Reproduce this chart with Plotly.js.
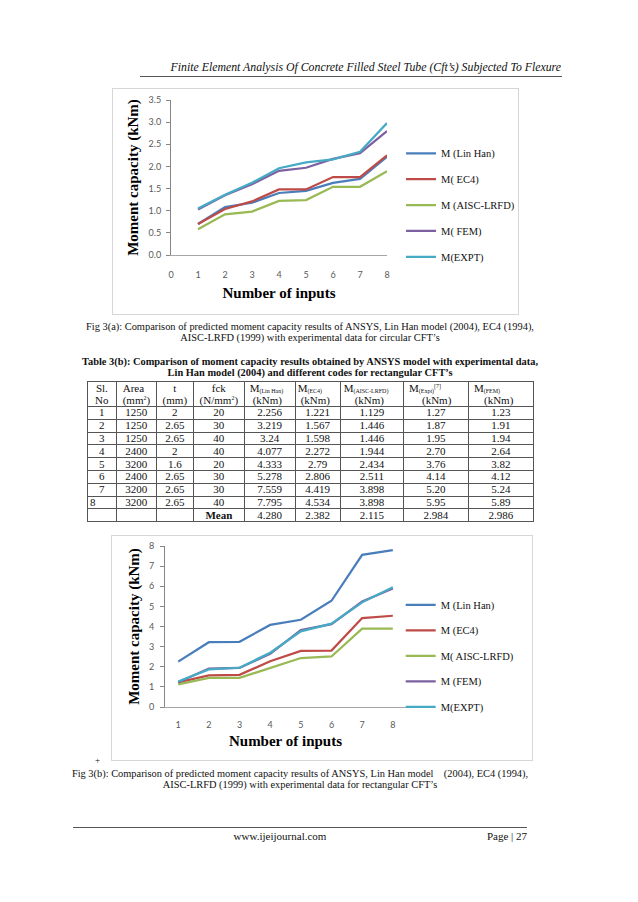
<!DOCTYPE html>
<html>
<head>
<meta charset="utf-8">
<script src="https://cdn.plot.ly/plotly-3.0.1.min.js"></script>
<style>
html,body{margin:0;padding:0;background:#fff;width:638px;height:902px;overflow:hidden;}
#page{position:relative;width:638px;height:902px;font-family:"Liberation Serif","Times New Roman",serif;color:#111;overflow:hidden;}
.abs{position:absolute;}
.frame{position:absolute;border:1px solid #d6d6d6;box-sizing:border-box;}
.cap{position:absolute;font-size:10.4px;line-height:11px;text-align:center;white-space:nowrap;}
#tbl{border-collapse:collapse;table-layout:fixed;font-size:11px;}
#tbl td{border:1px solid #555;padding:0;height:11.8px;line-height:11px;text-align:center;white-space:nowrap;overflow:hidden;}
#tbl tr.hd td{height:24px;vertical-align:top;text-align:left;line-height:12px;}
#tbl sub,#tbl sup{font-size:6px;line-height:0;}
#tbl sub{vertical-align:-1px;}
#tbl sup{vertical-align:4px;}
#tbl td b{font-weight:bold;}
</style>
</head>
<body>
<div id="page">
  <div class="abs" id="hdr" style="left:61px;top:61px;width:500px;text-align:right;font-style:italic;font-size:11.8px;line-height:13px;white-space:nowrap;">Finite Element Analysis Of Concrete Filled Steel Tube (Cft’s) Subjected To Flexure</div>
  <div class="abs" style="left:140px;top:76px;width:422px;height:0;border-top:1px solid #555;"></div>

  <div class="frame" style="left:112px;top:88px;width:407px;height:227px;"></div>
  <div class="abs" id="chart1" style="left:112px;top:88px;width:480px;height:227px;"></div>

  <div class="cap" style="left:60px;top:321px;width:500px;">Fig 3(a): Comparison of predicted moment capacity results of ANSYS, Lin Han model (2004), EC4 (1994),<br>AISC-LRFD (1999) with experimental data for circular CFT’s</div>

  <div class="cap" style="left:60px;top:357px;width:500px;font-weight:bold;line-height:10.5px;">Table 3(b): Comparison of moment capacity results obtained by ANSYS model with experimental data,<br>Lin Han model (2004) and different codes for rectangular CFT’s</div>

  <div class="abs" id="tblwrap" style="left:87px;top:381px;"></div>

  <div class="frame" style="left:111px;top:535px;width:422px;height:226px;"></div>
  <div class="abs" id="chart2" style="left:111px;top:535px;width:480px;height:226px;"></div>

  <div class="abs" style="left:95px;top:755px;font-size:9px;line-height:10px;">+</div>

  <div class="cap" style="left:50px;top:768px;width:500px;">Fig 3(b): Comparison of predicted moment capacity results of ANSYS, Lin Han model&nbsp;&nbsp;&nbsp;&nbsp;(2004), EC4 (1994),<br>AISC-LRFD (1999) with experimental data for rectangular CFT’s</div>

  <div class="abs" style="left:73px;top:827px;width:454px;height:0;border-top:1px solid #555;"></div>
  <div class="abs" style="left:180px;top:830px;width:200px;text-align:center;font-size:11px;line-height:12px;">www.ijeijournal.com</div>
  <div class="abs" style="left:427px;top:830px;width:100px;text-align:right;font-size:11px;line-height:12px;">Page | 27</div>
</div>

<script>
// ---------- data: Fig 3(a) circular CFT ----------
const inputs = [1, 2, 3, 4, 5, 6, 7, 8];
const circLinHan = [0.70, 1.08, 1.18, 1.40, 1.45, 1.63, 1.72, 2.22];
const circEC4    = [0.70, 1.04, 1.21, 1.48, 1.48, 1.76, 1.76, 2.25];
const circAISC   = [0.58, 0.92, 0.98, 1.22, 1.24, 1.54, 1.54, 1.89];
const circFEM    = [1.03, 1.35, 1.60, 1.90, 1.97, 2.17, 2.30, 2.80];
const circEXPT   = [1.05, 1.36, 1.63, 1.96, 2.09, 2.16, 2.33, 2.98];
const circNames  = ["M (Lin Han)", "M( EC4)", "M (AISC-LRFD)", "M( FEM)", "M(EXPT)"];
const circXTicks = [0, 1, 2, 3, 4, 5, 6, 7, 8];

// ---------- data: Table 3(b) / Fig 3(b) rectangular CFT ----------
const slNo       = ["1", "2", "3", "4", "5", "6", "7", "8"];
const areas      = ["1250", "1250", "1250", "2400", "3200", "2400", "3200", "3200"];
const thickness  = ["2", "2.65", "2.65", "2", "1.6", "2.65", "2.65", "2.65"];
const fckVals    = ["20", "30", "40", "40", "20", "30", "30", "40"];
const rectLinHan = ["2.256", "3.219", "3.24", "4.077", "4.333", "5.278", "7.559", "7.795"];
const rectEC4    = ["1.221", "1.567", "1.598", "2.272", "2.79", "2.806", "4.419", "4.534"];
const rectAISC   = ["1.129", "1.446", "1.446", "1.944", "2.434", "2.511", "3.898", "3.898"];
const rectExpt   = ["1.27", "1.87", "1.95", "2.70", "3.76", "4.14", "5.20", "5.95"];
const rectFEM    = ["1.23", "1.91", "1.94", "2.64", "3.82", "4.12", "5.24", "5.89"];
const meanRow    = ["", "", "", "Mean", "4.280", "2.382", "2.115", "2.984", "2.986"];
const tableHeaders = [
  ["Sl.", "No"],
  ["Area", "(mm<sup>2</sup>)"],
  ["t", "(mm)"],
  ["fck", "(N/mm<sup>2</sup>)"],
  ["M<sub>(Lin Han)</sub>", "(kNm)"],
  ["M<sub>(EC4)</sub>", "(kNm)"],
  ["M<sub>(AISC-LRFD)</sub>", "(kNm)"],
  ["M<sub>(Expt)</sub><sup>[7]</sup>", "(kNm)"],
  ["M<sub>(FEM)</sub>", "(kNm)"]
];
const rectNames = ["M (Lin Han)", "M (EC4)", "M( AISC-LRFD)", "M (FEM)", "M(EXPT)"];

// ---------- styles (kept apart from data) ----------
const lineColors = ["#4A7EBB", "#BE4B48", "#98B954", "#7D60A0", "#46AAC5"];
const colWidths = [28.7, 40, 37.3, 50.7, 51, 45, 63.3, 65, 65];
const hdrPad = [[0,0,"center"],[6,6,"left"],[0,0,"center"],[0,0,"center"],[5,8,"left"],[2,5,"left"],[3,14,"left"],[5,18,"left"],[5,15,"left"]];

// ---------- table ----------
(function buildTable() {
  const cols = [slNo, areas, thickness, fckVals, rectLinHan, rectEC4, rectAISC, rectExpt, rectFEM];
  let h = '<table id="tbl" style="width:446px"><colgroup>' +
    colWidths.map(w => '<col style="width:' + w + 'px">').join('') + '</colgroup>';
  h += '<tr class="hd">' + tableHeaders.map((t, i) => {
    const p = hdrPad[i];
    if (p[2] === 'center') return '<td style="text-align:center">' + t[0] + '<br>' + t[1] + '</td>';
    return '<td><div style="padding-left:' + p[0] + 'px">' + t[0] + '</div><div style="padding-left:' + p[1] + 'px">' + t[1] + '</div></td>';
  }).join('') + '</tr>';
  for (let r = 0; r < slNo.length; r++) {
    h += '<tr>' + cols.map((c, i) => {
      const st = (i === 0 && r === slNo.length - 1) ? ' style="text-align:left;padding-left:2px"' : '';
      return '<td' + st + '>' + c[r] + '</td>';
    }).join('') + '</tr>';
  }
  h += '<tr>' + meanRow.map(v => '<td>' + (v === 'Mean' ? '<b>' + v + '</b>' : v) + '</td>').join('') + '</tr>';
  h += '</table>';
  document.getElementById('tblwrap').innerHTML = h;
})();

// ---------- charts ----------
const tickFont = {family: 'Lato, "Liberation Sans", sans-serif', size: 9, color: '#595959'};
const titleFont = {family: '"Liberation Serif", "Times New Roman", serif', size: 15, color: '#000', weight: 'bold'};
const legFont = {family: '"Liberation Serif", "Times New Roman", serif', size: 10.5, color: '#111'};

function makeTraces(series, names) {
  return series.map((s, i) => ({
    type: 'scatter', mode: 'lines', x: inputs, y: s, name: names[i],
    legendgroup: 'g' + i,
    line: {color: lineColors[i], width: 2.25}, cliponaxis: false, hoverinfo: 'skip'
  }));
}

Plotly.newPlot('chart1',
  makeTraces([circLinHan, circEC4, circAISC, circFEM, circEXPT], circNames),
  {
    width: 480, height: 227,
    margin: {l: 59, r: 205, t: 12, b: 60, pad: 0},
    paper_bgcolor: 'rgba(0,0,0,0)', plot_bgcolor: 'rgba(0,0,0,0)',
    font: tickFont, showlegend: true,
    xaxis: {range: [0, 8], tickvals: circXTicks, ticktext: circXTicks.map(String),
      showgrid: false, zeroline: false, showline: true, linecolor: '#a6a6a6', linewidth: 1,
      ticks: '', ticklabelstandoff: 11, tickfont: tickFont,
      title: {text: 'Number of inputs', font: titleFont, standoff: 8}},
    yaxis: {range: [0, 3.5], dtick: 0.5, tick0: 0, tickformat: '.1f',
      showgrid: false, zeroline: false, showline: true, linecolor: '#868686', linewidth: 1,
      ticks: 'outside', ticklen: 4, tickcolor: '#868686', tickfont: tickFont, ticklabelstandoff: 3,
      title: {text: 'Moment capacity (kNm)', font: titleFont, standoff: 6}},
    legend: {x: 1.065, xanchor: 'left', y: 0.75, yanchor: 'top', font: legFont,
      bgcolor: 'rgba(0,0,0,0)', tracegroupgap: 6.9, traceorder: 'grouped'}
  },
  {staticPlot: true, displayModeBar: false});

Plotly.newPlot('chart2',
  makeTraces([rectLinHan, rectEC4, rectAISC, rectFEM, rectExpt].map(a => a.map(Number)), rectNames),
  {
    width: 480, height: 226,
    margin: {l: 54, r: 185, t: 11, b: 54, pad: 0},
    paper_bgcolor: 'rgba(0,0,0,0)', plot_bgcolor: 'rgba(0,0,0,0)',
    font: tickFont, showlegend: true,
    xaxis: {range: [0.57, 8.43], tickvals: inputs, ticktext: inputs.map(String),
      showgrid: false, zeroline: false, showline: true, linecolor: '#a6a6a6', linewidth: 1,
      ticks: '', ticklabelstandoff: 9, tickfont: tickFont,
      title: {text: 'Number of inputs', font: titleFont, standoff: 6}},
    yaxis: {range: [0, 8], dtick: 1, tick0: 0,
      showgrid: false, zeroline: false, showline: true, linecolor: '#868686', linewidth: 1,
      ticks: 'outside', ticklen: 4, tickcolor: '#868686', tickfont: tickFont, ticklabelstandoff: 4,
      title: {text: 'Moment capacity (kNm)', font: titleFont, standoff: 5}},
    legend: {x: 0.978, xanchor: 'left', y: 0.725, yanchor: 'top', font: legFont,
      bgcolor: 'rgba(0,0,0,0)', tracegroupgap: 6.5, traceorder: 'grouped'}
  },
  {staticPlot: true, displayModeBar: false});
</script>
</body>
</html>
